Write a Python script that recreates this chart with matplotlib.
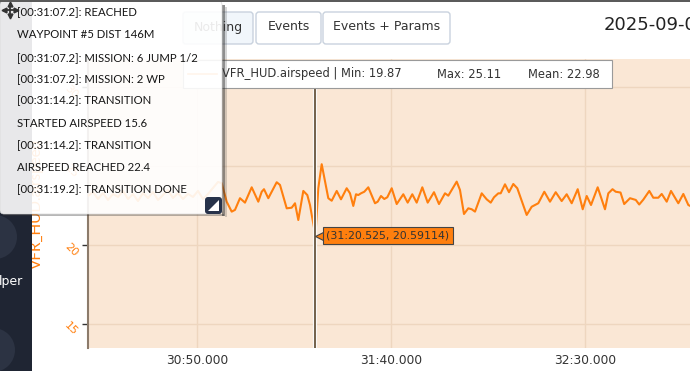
import numpy as np
import matplotlib
matplotlib.use('Agg')
import matplotlib.pyplot as plt
from matplotlib.patches import Rectangle, FancyBboxPatch, Circle, Polygon
from matplotlib.ticker import FuncFormatter, MultipleLocator
import matplotlib.transforms as mtransforms

# time in seconds after 00:30:00, airspeed
t_sec = [21.00, 21.91, 23.20, 24.48, 25.77, 27.06, 28.35, 29.64, 30.93, 32.22,
         33.51, 34.79, 36.08, 37.37, 38.66, 39.95, 41.24, 42.53, 43.81, 45.10,
         46.39, 47.68, 48.97, 50.26, 51.55, 52.84, 54.12, 55.41,
         56.37, 57.65, 58.94, 59.79, 61.08, 62.37, 64.10, 65.80, 66.68, 67.27,
         68.38, 70.54, 71.39, 73.12, 74.41, 75.26, 76.11, 77.40, 78.43, 79.12,
         80.525, 81.26, 82.14, 83.84, 84.72, 86.01, 87.11, 88.58, 89.43, 90.28,
         90.98, 91.57, 92.27, 93.12, 94.15, 95.88, 96.57, 97.42, 98.27, 99.05,
         100.18, 101.47, 103.17, 104.30, 105.49, 106.62, 108.07, 109.46, 111.08, 112.37,
         113.92, 114.77, 116.93, 117.78, 118.81, 119.92, 120.80, 121.65, 123.38, 124.66,
         125.70, 126.55, 127.66, 128.27, 129.38, 130.41, 131.52, 132.55, 134.97, 136.26,
         137.96, 139.51, 140.98, 142.45, 143.99, 145.28, 146.57, 148.12, 149.41, 150.44,
         151.55, 153.27, 155.15, 156.01, 157.09, 157.91, 159.15, 160.10, 161.60, 163.09,
         163.97, 165.03, 166.57, 167.60, 168.89, 169.77, 171.06, 172.16, 174.05, 175.34,
         176.63, 177.58]
airspeed = [23.05, 23.10, 23.35, 22.91, 23.29, 22.85, 23.23, 23.04, 23.42, 22.91,
            23.23, 22.78, 23.29, 22.97, 23.35, 22.85, 23.16, 23.48, 22.97, 23.29,
            22.91, 23.23, 23.04, 23.42, 22.91, 23.23, 23.61, 23.99,
            23.91, 22.74, 22.11, 22.22, 22.96, 22.68, 23.65, 22.74, 23.37, 23.53,
            22.96, 23.97, 23.80, 22.32, 22.36, 22.64, 21.58, 23.42, 23.16, 22.53,
            20.59114, 23.59, 25.11, 22.96, 22.80, 23.42, 22.89, 23.59, 23.27, 22.47,
            23.21, 23.16, 23.27, 23.37, 23.65, 22.64, 22.74, 23.10, 22.91, 23.02,
            23.59, 22.59, 23.21, 22.68, 23.21, 22.68, 23.65, 22.68, 23.34, 22.59,
            23.27, 23.12, 24.01, 23.48, 21.96, 22.32, 22.26, 22.11, 23.27, 22.89,
            22.68, 23.02, 23.27, 23.27, 23.84, 23.34, 23.86, 23.59, 21.90, 22.42,
            22.64, 23.37, 22.74, 23.34, 22.78, 23.21, 22.64, 23.53, 22.26, 23.10,
            22.53, 23.65, 22.26, 23.27, 23.53, 23.37, 23.32, 22.59, 22.96, 22.85,
            22.56, 22.87, 23.42, 22.99, 22.99, 23.23, 22.74, 23.42, 22.64, 23.23,
            22.53, 22.41]

cursor_t = 80.525
cursor_v = 20.59114

series_name = "VFR_HUD.airspeed"
stat_min, stat_max, stat_mean = 19.87, 25.11, 22.98

events = ["[00:31:07.2]: REACHED",
          "WAYPOINT #5 DIST 146M",
          "[00:31:07.2]: MISSION: 6 JUMP 1/2",
          "[00:31:07.2]: MISSION: 2 WP",
          "[00:31:14.2]: TRANSITION",
          "STARTED AIRSPEED 15.6",
          "[00:31:14.2]: TRANSITION",
          "AIRSPEED REACHED 22.4",
          "[00:31:19.2]: TRANSITION DONE"]
buttons = ["Nothing", "Events", "Events + Params"]
title = "2025-09-0"

ORANGE = '#ff7f0e'
W, H = 690, 371
T0 = 1800.0

def mmss(x, pos=None):
    m = int(x // 60)
    return "%d:%06.3f" % (m, x - 60 * m)

fig = plt.figure(figsize=(W / 100, H / 100), dpi=100)
fig.patch.set_facecolor('white')

ax = fig.add_axes([88 / W, 1 - 348 / H, (W - 88) / W, (348 - 59) / H])
ax.set_facecolor('#fae7d5')
ax.plot(T0 + np.array(t_sec), airspeed, color=ORANGE, lw=1.5, zorder=3)
ax.set_xlim(T0 + 21.91, T0 + 177.06)
ax.set_ylim(13.48, 31.77)
ax.xaxis.set_major_locator(MultipleLocator(50))
ax.xaxis.set_major_formatter(FuncFormatter(mmss))
ax.set_yticks([15, 20, 25, 30])
ax.grid(color='#eed6bf', lw=1, zorder=0)
ax.set_axisbelow(True)
ax.tick_params(axis='x', length=0, pad=4, labelsize=8.8, labelcolor='#333333')
ax.tick_params(axis='y', length=4, width=1, color='#333333', labelcolor=ORANGE,
               labelsize=8, labelrotation=-45, pad=2)
for s in ['top', 'right', 'bottom']:
    ax.spines[s].set_visible(False)
ax.spines['left'].set_color('#8c7b6b')
ax.spines['left'].set_linewidth(1.5)
ax.set_ylabel(series_name, color=ORANGE, fontsize=11, fontfamily='Lato')
ax.yaxis.set_label_coords(-0.073, 0.5)

# cursor line + tooltip
ax.axvline(T0 + cursor_t, ymax=0.9, color='white', lw=3, zorder=4)
ax.axvline(T0 + cursor_t, ymax=0.9, color='#75644f', lw=1.5, zorder=5)
off = mtransforms.offset_copy(ax.transData, fig=fig, x=6, y=0, units='dots')
ax.plot(T0 + cursor_t, cursor_v, marker='<', ms=9, color=ORANGE, mec='#444444',
        mew=0.8, transform=off, zorder=6)
ax.annotate("(%s, %.5f)" % (mmss(T0 + cursor_t), cursor_v),
            xy=(T0 + cursor_t, cursor_v), xytext=(11, 0), textcoords='offset pixels',
            va='center', ha='left', fontsize=7.9, color='#333333', zorder=7,
            bbox=dict(boxstyle='square,pad=0.35', fc=ORANGE, ec='#444444', lw=0.8))

# page overlay in pixel coords
ov = fig.add_axes([0, 0, 1, 1], zorder=10)
ov.set_xlim(0, W)
ov.set_ylim(H, 0)
ov.axis('off')

# sidebar
ov.add_patch(Rectangle((0, 0), 32, H, fc='#1f2533', ec='none', zorder=1))
ov.add_patch(Circle((-5, 237), 22, fc='#2c3343', ec='none', zorder=1))
ov.add_patch(Circle((-7, 350), 22, fc='#2c3343', ec='none', zorder=1))
ov.text(23, 281, "lper", color='white', fontsize=9, ha='right', va='center', zorder=2)

# buttons
bx = [(183, 70), (256, 65), (323, 127)]
for (x0, w), lab in zip(bx, buttons):
    fc = '#f1f6fb' if lab == "Nothing" else 'white'
    ov.add_patch(FancyBboxPatch((x0, 12), w, 32, boxstyle='round,pad=0,rounding_size=3',
                                fc=fc, ec='#c9d2de', lw=1, zorder=1))
    ov.text(x0 + w / 2, 27, lab, fontsize=9, color='#333333', ha='center', va='center',
            zorder=2)

ov.text(604, 25, title, fontsize=13, color='#222222', ha='left', va='center', zorder=2)

# legend box
ov.add_patch(Rectangle((183, 60), 429, 28, fc='white', ec='#9a9a9a', lw=0.8, zorder=1))
ov.plot([188, 217], [74, 74], color=ORANGE, lw=1.2, alpha=0.8, zorder=2)
ov.text(222, 74, "%s | Min: %.2f" % (series_name, stat_min), fontsize=8.3,
        color='#333333', va='center', zorder=2)
ov.text(437, 74, "Max: %.2f" % stat_max, fontsize=8.3, color='#333333', va='center',
        zorder=2)
ov.text(528, 74, "Mean: %.2f" % stat_mean, fontsize=8.3, color='#333333', va='center',
        zorder=2)

# events popup: shadow strips on the right and bottom, then translucent panel
ov.add_patch(Rectangle((222, 5), 2.5, 211, fc='#333333', ec='none', alpha=0.55, zorder=5))
ov.add_patch(Rectangle((224.5, 7), 2, 210, fc='#333333', ec='none', alpha=0.2, zorder=5))
ov.add_patch(Rectangle((3, 214), 221, 2, fc='#333333', ec='none', alpha=0.35, zorder=5))
ov.add_patch(FancyBboxPatch((0, 1), 222, 213, boxstyle='round,pad=0,rounding_size=4',
                            fc='white', ec='#d5d5d5', lw=0.5, alpha=0.9, zorder=5))
ys = [12.7, 34.3, 57.3, 79.3, 101, 123.3, 145.3, 167.3, 189.3]
for y, ev in zip(ys, events):
    ov.text(17, y, ev, fontsize=8.2, color='#151515', ha='left', va='center',
            fontfamily='Lato', zorder=6)
# move icon
ov.plot([4, 16], [10, 10], color='#333333', lw=1.3, zorder=6)
ov.plot([10, 10], [4, 16], color='#333333', lw=1.3, zorder=6)
for mk, (mx, my) in zip(['^', 'v', '<', '>'], [(10, 4), (10, 16), (4, 10), (16, 10)]):
    ov.plot(mx, my, marker=mk, ms=3.5, color='#333333', zorder=6)
# resize handle
ov.add_patch(FancyBboxPatch((205, 197), 17, 17, boxstyle='round,pad=0,rounding_size=3',
                            fc='#27324a', ec='none', zorder=6))
ov.add_patch(Polygon([(208, 211), (219, 211), (219, 200)], fc='white', ec='none', zorder=7))

ov.add_patch(Rectangle((0, 0), W, 1.5, fc='#5b5b5b', ec='none', zorder=8))

fig.savefig('out.png', dpi=100)
